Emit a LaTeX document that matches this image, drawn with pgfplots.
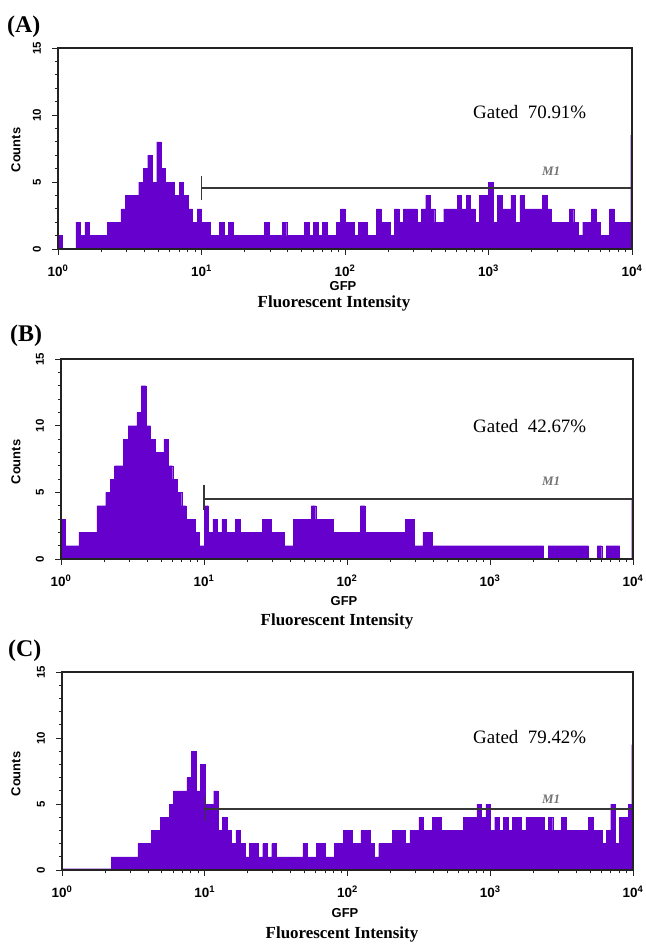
\documentclass[border=0pt]{standalone}
\usepackage{fontspec}
\setmainfont{Liberation Serif}
\newfontfamily\sansf{Liberation Sans}
\usepackage{pgfplots}
\pgfplotsset{compat=1.18}
\usepackage{pgfplotstable}
\definecolor{histc}{RGB}{102,0,204}
\definecolor{axc}{RGB}{35,35,35}
\definecolor{gatec}{RGB}{55,55,55}
\definecolor{mc}{RGB}{115,115,115}

% channel index k (32 channels per decade, 10^0 at k=0, 10^4 at k=128), counts
\pgfplotstableread{
k c
0 1
1 0
2 0
3 0
4 2
5 1
6 2
7 1
8 1
9 1
10 1
11 2
12 2
13 2
14 3
15 4
16 4
17 4
18 5
19 6
20 7
21 5
22 8
23 6
24 5
25 5
26 4
27 5
28 4
29 3
30 2
31 3
32 2
33 2
34 1
35 1
36 2
37 1
38 2
39 1
40 1
41 1
42 1
43 1
44 1
45 1
46 2
47 1
48 1
49 1
50 2
51 1
52 1
53 1
54 1
55 2
56 1
57 2
58 1
59 2
60 1
61 1
62 2
63 3
64 2
65 2
66 1
67 2
68 2
69 1
70 1
71 3
72 2
73 2
74 1
75 3
76 2
77 3
78 3
79 3
80 2
81 3
82 4
83 3
84 2
85 2
86 3
87 3
88 3
89 4
90 3
91 4
92 3
93 2
94 4
95 4
96 5
97 2
98 4
99 3
100 3
101 4
102 2
103 4
104 3
105 3
106 3
107 3
108 4
109 3
110 2
111 2
112 2
113 2
114 3
115 2
116 1
117 2
118 2
119 3
120 2
121 1
122 1
123 3
124 2
125 2
126 2
127 2
127.7 8.5
128 8.5
}\dataA

\pgfplotstableread{
k c
0 3
1 1
2 1
3 1
4 2
5 2
6 2
7 2
8 4
9 4
10 5
11 6
12 7
13 7
14 9
15 10
16 10
17 11
18 13
19 10
20 9
21 8
22 8
23 9
24 7
25 6
26 5
27 4
28 3
29 3
30 2
31 1
32 4
33 2
34 3
35 2
36 3
37 2
38 2
39 3
40 2
41 2
42 2
43 2
44 2
45 3
46 3
47 2
48 2
49 2
50 1
51 1
52 3
53 3
54 3
55 3
56 4
57 3
58 3
59 3
60 3
61 2
62 2
63 2
64 2
65 2
66 2
67 4
68 2
69 2
70 2
71 2
72 2
73 2
74 2
75 2
76 2
77 3
78 3
79 1
80 1
81 2
82 2
83 1
84 1
85 1
86 1
87 1
88 1
89 1
90 1
91 1
92 1
93 1
94 1
95 1
96 1
97 1
98 1
99 1
100 1
101 1
102 1
103 1
104 1
105 1
106 1
107 1
108 0
109 1
110 1
111 1
112 1
113 1
114 1
115 1
116 1
117 1
118 0
119 0
120 1
121 0
122 1
123 1
124 1
125 0
126 0
127 0
127.7 4.5
128 4.5
}\dataB

\pgfplotstableread{
k c
0 0.1
1 0.1
2 0.1
3 0.1
4 0.1
5 0.1
6 0.1
7 0.1
8 0.1
9 0.1
10 0.1
11 1
12 1
13 1
14 1
15 1
16 1
17 2
18 2
19 2
20 3
21 3
22 4
23 4
24 5
25 6
26 6
27 6
28 7
29 9
30 6
31 8
32 5
33 5
34 6
35 3
36 4
37 3
38 2
39 3
40 2
41 1
42 2
43 2
44 1
45 2
46 1
47 2
48 1
49 1
50 1
51 1
52 1
53 1
54 2
55 1
56 1
57 2
58 2
59 1
60 1
61 2
62 2
63 3
64 3
65 2
66 2
67 3
68 3
69 2
70 1
71 2
72 2
73 2
74 3
75 3
76 3
77 2
78 3
79 3
80 4
81 3
82 3
83 4
84 4
85 3
86 3
87 3
88 3
89 3
90 4
91 4
92 4
93 5
94 4
95 5
96 3
97 4
98 3
99 4
100 3
101 4
102 4
103 3
104 4
105 4
106 4
107 4
108 3
109 4
110 3
111 3
112 4
113 3
114 3
115 3
116 3
117 3
118 4
119 3
120 3
121 2
122 3
123 5
124 2
125 4
126 4
127 5
127.7 9.5
128 9.5
}\dataC

\pgfplotsset{
  flowax/.style={
    scale only axis, anchor=south west,
    xmin=0, xmax=128, ymin=0, ymax=15,
    axis on top,
    axis line style={axc, line width=1.1pt},
    tick pos=left,
    tick align=outside,
    major tick length=6pt, minor tick length=3.5pt,
    every tick/.style={axc, line width=0.9pt},
    xtick={0,32,64,96,128},
    xticklabels={10\textsuperscript{0},10\textsuperscript{1},10\textsuperscript{2},10\textsuperscript{3},10\textsuperscript{4}},
    minor xtick={9.63,15.27,19.27,22.37,24.90,27.04,28.90,30.54,
                 41.63,47.27,51.27,54.37,56.90,59.04,60.90,62.54,
                 73.63,79.27,83.27,86.37,88.90,91.04,92.90,94.54,
                 105.63,111.27,115.27,118.37,120.90,123.04,124.90,126.54},
    ytick={0,5,10,15}, yticklabels={0,5,10,15},
    minor ytick={1,2,3,4,6,7,8,9,11,12,13,14},
    xticklabel style={font=\sansf\bfseries\fontsize{13.5}{13.5}\selectfont, inner sep=1pt},
    xticklabel shift=9pt,
    yticklabel style={font=\sansf\bfseries\fontsize{11.5}{11.5}\selectfont, rotate=90, anchor=south, inner sep=1pt},
    yticklabel shift=10pt,
  },
  histo/.style={const plot, fill=histc, draw=histc, line width=0.3pt},
  gate/.style={gatec, line width=1.3pt, no marks},
}

\begin{document}
\begin{tikzpicture}
\path[use as bounding box] (0,0) rectangle (646bp,-944bp);

% ---------- (A) ----------
\begin{axis}[flowax, at={(58bp,-249bp)}, width=574bp, height=201bp]
  \addplot[histo] table[x=k, y=c] {\dataA} \closedcycle;
  \addplot[gate] coordinates {(32,4.55) (128,4.55)};
  \addplot[gate] coordinates {(32,3.66) (32,5.47)};
\end{axis}

% ---------- (B) ----------
\begin{axis}[flowax, at={(61bp,-559bp)}, width=572bp, height=200bp]
  \addplot[histo] table[x=k, y=c] {\dataB} \closedcycle;
  \addplot[gate] coordinates {(32,4.5) (128,4.5)};
  \addplot[gate] coordinates {(32,3.68) (32,5.55)};
\end{axis}

% ---------- (C) ----------
\begin{axis}[flowax, at={(62bp,-870bp)}, width=571bp, height=198bp]
  \addplot[histo] table[x=k, y=c] {\dataC} \closedcycle;
  \addplot[gate] coordinates {(32,4.62) (128,4.62)};
  \addplot[gate] coordinates {(32,3.71) (32,5.55)};
\end{axis}

% panel letters
\node[anchor=base west, inner sep=0, font=\bfseries\fontsize{24}{24}\selectfont] at (7bp,-32bp) {(A)};
\node[anchor=base west, inner sep=0, font=\bfseries\fontsize{24}{24}\selectfont] at (10bp,-341bp) {(B)};
\node[anchor=base west, inner sep=0, font=\bfseries\fontsize{24}{24}\selectfont] at (8bp,-656bp) {(C)};

% y labels
\foreach \yy in {150,462,774} {
  \node[rotate=90, inner sep=0, font=\sansf\bfseries\fontsize{13}{13}\selectfont] at (16bp,-\yy bp) {Counts};
}

% GFP
\node[anchor=base, inner sep=0, font=\sansf\bfseries\fontsize{13}{13}\selectfont] at (343bp,-290bp) {GFP};
\node[anchor=base, inner sep=0, font=\sansf\bfseries\fontsize{13}{13}\selectfont] at (344bp,-605bp) {GFP};
\node[anchor=base, inner sep=0, font=\sansf\bfseries\fontsize{13}{13}\selectfont] at (345bp,-917bp) {GFP};

% Fluorescent Intensity
\node[anchor=base, inner sep=0, font=\bfseries\fontsize{17}{17}\selectfont] at (334bp,-307bp) {Fluorescent Intensity};
\node[anchor=base, inner sep=0, font=\bfseries\fontsize{17}{17}\selectfont] at (337bp,-625bp) {Fluorescent Intensity};
\node[anchor=base, inner sep=0, font=\bfseries\fontsize{17}{17}\selectfont] at (342bp,-938bp) {Fluorescent Intensity};

% Gated
\node[anchor=base west, inner sep=0, font=\fontsize{19}{19}\selectfont] at (473bp,-118bp) {Gated\hspace{0.5em}70.91\%};
\node[anchor=base west, inner sep=0, font=\fontsize{19}{19}\selectfont] at (473bp,-432bp) {Gated\hspace{0.5em}42.67\%};
\node[anchor=base west, inner sep=0, font=\fontsize{19}{19}\selectfont] at (473bp,-743bp) {Gated\hspace{0.5em}79.42\%};

% M1 labels
\node[anchor=base west, inner sep=0, text=mc, font=\bfseries\itshape\fontsize{13}{13}\selectfont] at (542bp,-175bp) {M1};
\node[anchor=base west, inner sep=0, text=mc, font=\bfseries\itshape\fontsize{13}{13}\selectfont] at (542bp,-485bp) {M1};
\node[anchor=base west, inner sep=0, text=mc, font=\bfseries\itshape\fontsize{13}{13}\selectfont] at (542bp,-803bp) {M1};
\end{tikzpicture}
\end{document}
